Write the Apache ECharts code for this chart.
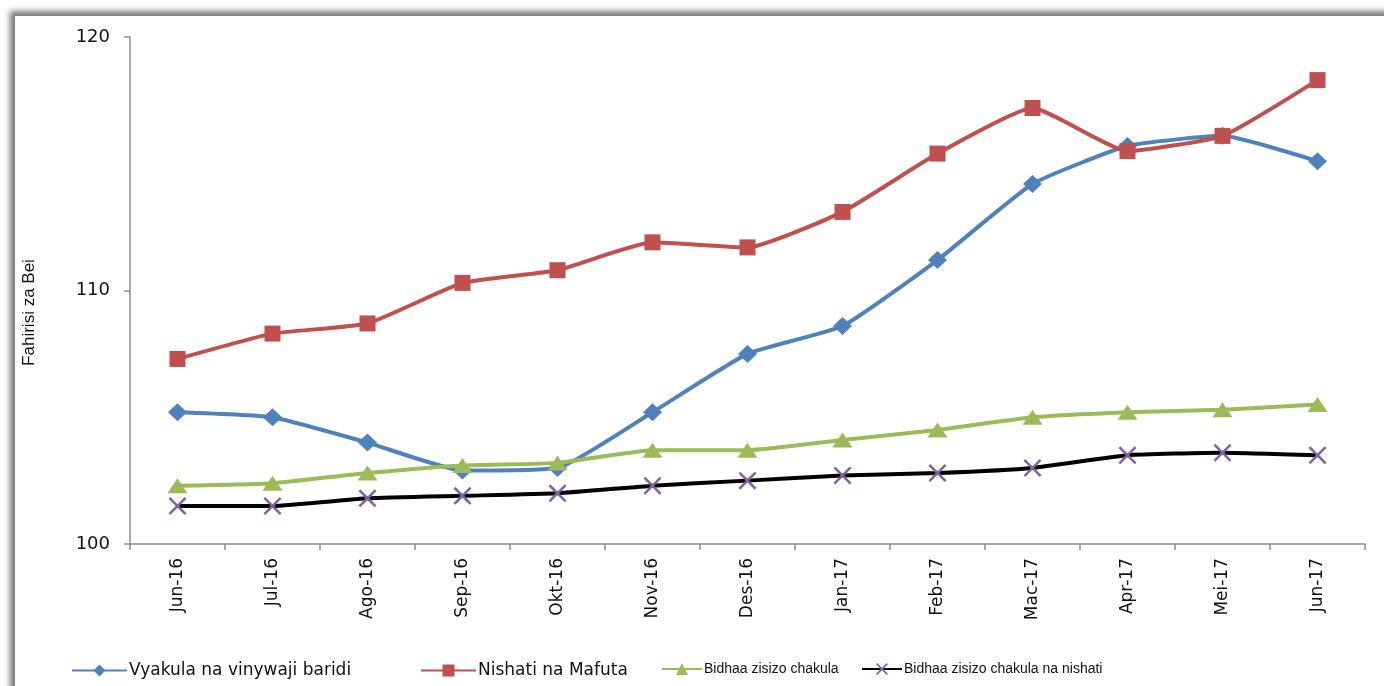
<!DOCTYPE html>
<html><head><meta charset="utf-8">
<script src="https://cdn.jsdelivr.net/npm/echarts@6/dist/echarts.min.js"></script>
<style>
html,body{margin:0;padding:0;background:#fff;width:1384px;height:686px;overflow:hidden}
#frame{position:absolute;left:15px;top:16px;width:1400px;height:700px;background:#fff;box-shadow:-4px -4px 6px 1px #7a7a7a}
#c{position:absolute;left:-15px;top:-16px;width:1384px;height:686px}
</style></head>
<body><div id="frame"><div id="c"></div></div>
<script>
const categories = ['Jun-16','Jul-16','Ago-16','Sep-16','Okt-16','Nov-16','Des-16','Jan-17','Feb-17','Mac-17','Apr-17','Mei-17','Jun-17'];
const vyakula = [105.2,105.0,104.0,102.9,103.0,105.2,107.5,108.6,111.2,114.2,115.7,116.1,115.1];
const nishati = [107.3,108.3,108.7,110.3,110.8,111.9,111.7,113.1,115.4,117.2,115.5,116.1,118.3];
const bidhaa = [102.3,102.4,102.8,103.1,103.2,103.7,103.7,104.1,104.5,105.0,105.2,105.3,105.5];
const bidhaaBila = [101.5,101.5,101.8,101.9,102.0,102.3,102.5,102.7,102.8,103.0,103.5,103.6,103.5];
const yTicks = [100,110,120];
const names = ['Vyakula na vinywaji baridi','Nishati na Mafuta','Bidhaa zisizo chakula','Bidhaa zisizo chakula na nishati'];

const xPath = 'path://M0,1 L1,0 L5,4 L9,0 L10,1 L6,5 L10,9 L9,10 L5,6 L1,10 L0,9 L4,5 Z';
const chart = echarts.init(document.getElementById('c'));
function leg(name, left, width, fs, family){
  return {data:[name], left:left, top:657, itemWidth:width, itemHeight:15, itemGap:0,
    textStyle:{fontSize:fs, fontFamily:family, color:'#111', padding:[0,0,0,-3]}};
}
chart.setOption({
  animation:false,
  backgroundColor:'transparent',
  grid:{left:130, right:19, top:37, bottom:142},
  legend:[
    leg(names[0], 66, 55, 17, 'DejaVu Sans'),
    leg(names[1], 415, 55, 17, 'DejaVu Sans'),
    leg(names[2], 656, 40, 14, 'Liberation Sans'),
    leg(names[3], 856, 40, 14, 'Liberation Sans')
  ],
  xAxis:{type:'category', data:categories, boundaryGap:true,
    axisLine:{lineStyle:{color:'#8c8c8c', width:1.5}},
    axisTick:{show:true, length:6, lineStyle:{color:'#8c8c8c', width:1.5}},
    axisLabel:{rotate:90, fontSize:17, fontFamily:'DejaVu Sans', color:'#111', margin:14}},
  yAxis:{type:'value', min:100, max:120, interval:10,
    name:'Fahirisi za Bei', nameLocation:'middle', nameGap:92, nameRotate:90,
    nameTextStyle:{fontSize:17, fontFamily:'Liberation Sans', color:'#111', padding:[0,0,0,-44]},
    axisLine:{show:true, lineStyle:{color:'#8c8c8c', width:1.5}},
    axisTick:{show:true, length:6, lineStyle:{color:'#8c8c8c', width:1.5}},
    splitLine:{show:false},
    axisLabel:{fontSize:18, fontFamily:'DejaVu Sans', color:'#111', margin:20,
      formatter:v=>yTicks.includes(v)?String(v):''}},
  series:[
    {name:names[0], type:'line', data:vyakula, smooth:0.15, symbol:'diamond', symbolSize:[19,18],
      lineStyle:{color:'#4F81BD', width:4}, itemStyle:{color:'#4F81BD'}, z:2},
    {name:names[1], type:'line', data:nishati, smooth:0.15, symbol:'rect', symbolSize:16,
      lineStyle:{color:'#C0504D', width:4}, itemStyle:{color:'#C0504D'}, z:3},
    {name:names[2], type:'line', data:bidhaa, smooth:0.15, symbol:'triangle', symbolSize:[20,15],
      lineStyle:{color:'#9BBB59', width:4}, itemStyle:{color:'#9BBB59'}, z:4},
    {name:names[3], type:'line', data:bidhaaBila, smooth:0.15, symbol:xPath, symbolSize:18,
      lineStyle:{color:'#000', width:4}, itemStyle:{color:'#8064A2'}, z:5}
  ]
});
</script></body></html>
